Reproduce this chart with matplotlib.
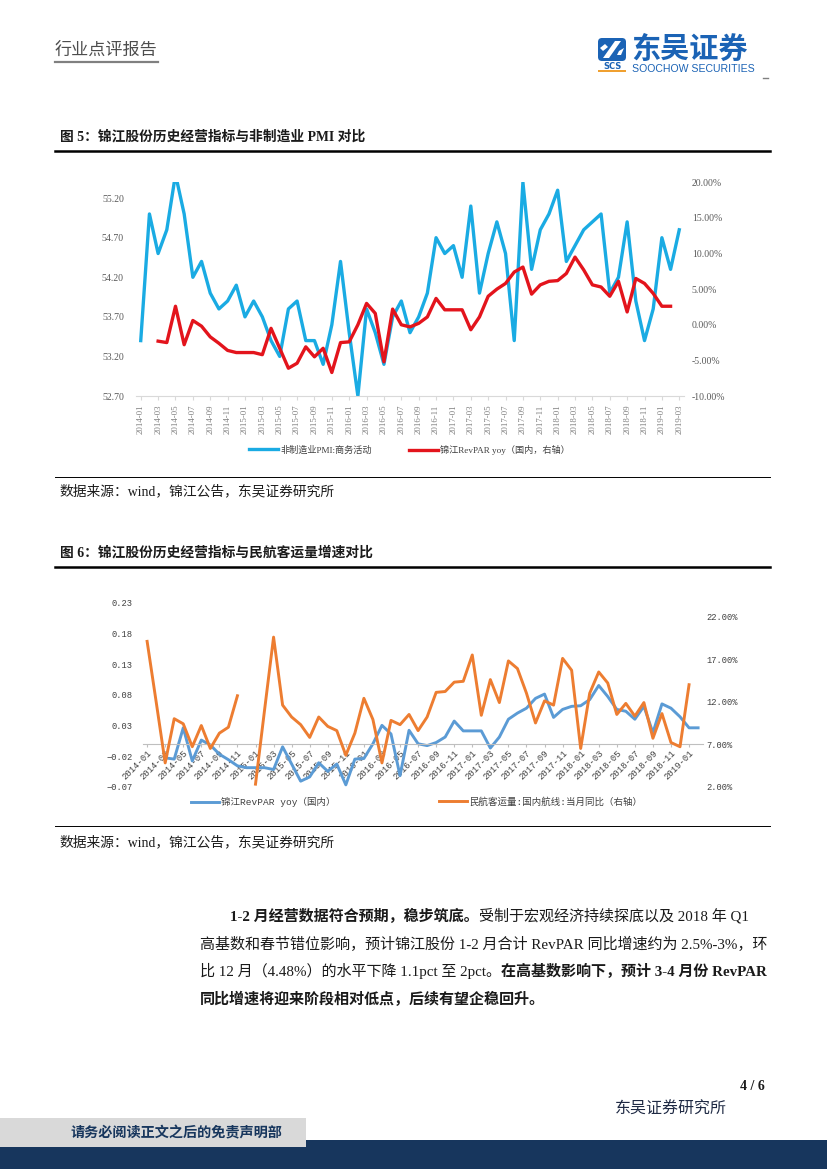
import numpy as np
import pandas as pd
import matplotlib
matplotlib.use("Agg")
import matplotlib.pyplot as plt
from matplotlib.patches import Rectangle, FancyBboxPatch, Polygon
from matplotlib.font_manager import FontProperties

W, H = 827, 1169
CJK = "Noto Sans CJK SC"
SERIF = ["Liberation Serif", CJK]
MONO = ["Liberation Mono", CJK]

# ---------------- data ----------------
months_1 = [str(p) for p in pd.period_range("2014-01", "2019-03", freq="M")]
months_2 = months_1[:-1]

pmi_nonmfg = [
    53.4, 55.0, 54.5, 54.8, 55.5, 55.0, 54.2, 54.4, 54.0, 53.8, 53.9, 54.1,
    53.7, 53.9, 53.7, 53.4, 53.2, 53.8, 53.9, 53.4, 53.4, 53.1, 53.6, 54.4,
    53.5, 52.7, 53.8, 53.5, 53.1, 53.7, 53.9, 53.5, 53.7, 54.0, 54.7, 54.5,
    54.6, 54.2, 55.1, 54.0, 54.5, 54.9, 54.5, 53.4, 55.4, 54.3, 54.8, 55.0,
    55.3, 54.4, 54.6, 54.8, 54.9, 55.0, 54.0, 54.2, 54.9, 53.9, 53.4, 53.8,
    54.7, 54.3, 54.8,
]

revpar_yoy_pct = [
    None, None, -2.3, -2.5, 2.6, -2.8, 0.6, -0.2, -1.7, -2.6, -3.6, -3.9,
    -3.9, -3.9, -4.2, -0.5, -3.3, -6.1, -5.4, -3.1, -4.5, -3.3, -6.7, -2.5,
    -2.4, 0.0, 3.0, 1.6, -5.2, 2.2, 0.0, -0.3, 0.2, 1.1, 3.7, 2.1,
    2.1, 2.1, -0.7, 1.1, 4.0, 5.0, 5.8, 7.4, 8.1, 4.3, 5.6, 6.1,
    6.2, 7.2, 9.5, 7.7, 5.6, 5.3, 4.0, 6.1, 1.8, 6.5, 5.8, 4.4,
    2.6, 2.6,
]

air_pax_yoy_pct = [
    19.1, 12.0, 4.8, 10.0, 9.4, 6.7, 9.2, 6.5, 8.3, 9.0, 12.7, None,
    2.3, 11.0, 19.6, 11.6, 10.2, 9.3, 7.8, 10.2, 9.1, 8.6, 5.7, 8.3,
    12.4, 9.9, 4.8, 9.8, 9.3, 10.5, 8.6, 10.2, 13.1, 13.2, 14.3, 14.4,
    17.5, 10.4, 14.6, 11.9, 16.8, 15.9, 13.0, 9.5, 12.1, 11.6, 17.1, 15.7,
    6.5, 13.0, 15.5, 14.2, 10.5, 11.8, 10.3, 11.9, 7.7, 10.6, 7.2, 6.7,
    14.0,
]

label_pmi = "非制造业PMI:商务活动"
label_rev1 = "锦江RevPAR yoy（国内，右轴）"
label_rev2 = "锦江RevPAR yoy（国内）"
label_air = "民航客运量:国内航线:当月同比（右轴）"

left1_ticks = [52.7, 53.2, 53.7, 54.2, 54.7, 55.2]
right1_ticks = [-10, -5, 0, 5, 10, 15, 20]
left2_ticks = [-0.07, -0.02, 0.03, 0.08, 0.13, 0.18, 0.23]
right2_ticks = [2, 7, 12, 17, 22]


def to_arr(v, n):
    a = np.full(n, np.nan)
    for i, x in enumerate(v):
        if x is not None:
            a[i] = x
    return a


# ---------------- figure ----------------
fig = plt.figure(figsize=(W / 100, H / 100), dpi=100)
fig.patch.set_facecolor("white")

page = fig.add_axes([0, 0, 1, 1])
page.set_xlim(0, W)
page.set_ylim(H, 0)
page.axis("off")


def px_axes(l, t, r, b):
    return [l / W, 1 - b / H, (r - l) / W, (b - t) / H]


# ---------------- header ----------------
page.text(55, 50, "行业点评报告", fontsize=12.3, family=[CJK], color="#4D4D4D",
          va="center", ha="left")
page.plot([55, 158], [61.5, 61.5], color="#808080", lw=1.6)

# logo
page.add_patch(FancyBboxPatch((598, 38), 28, 23, boxstyle="round,pad=0,rounding_size=4",
                              fc="#1B63B5", ec="none"))
page.add_patch(Polygon([(603, 58), (609, 58), (621, 41), (615, 41)], closed=True,
                       fc="white", ec="none"))
page.add_patch(Polygon([(600, 48), (605, 44), (608, 47), (603, 51)], closed=True,
                       fc="white", ec="none"))
page.add_patch(Polygon([(619, 51), (624, 48), (621, 55), (617, 55)], closed=True,
                       fc="white", ec="none"))
page.text(612, 66.5, "SCS", fontsize=6, weight="bold", family=["DejaVu Sans"],
          color="#1B63B5", ha="center", va="center")
page.add_patch(Rectangle((598, 70), 28, 2, fc="#F0A030", ec="none"))
page.text(631, 58, "东吴证券", fontsize=21, weight="bold", family=[CJK],
          color="#1B63B5", ha="left", va="baseline")
page.text(632, 69.5, "SOOCHOW SECURITIES", fontsize=7.6, family=["Liberation Sans"],
          color="#1B63B5", ha="left", va="center")
page.plot([763, 768], [78, 78], color="#808080", lw=1)

# ---------------- chart 1 frame text ----------------
page.text(60, 137, "图 5：锦江股份历史经营指标与非制造业 PMI 对比", fontsize=9.9,
          weight="bold", family=SERIF, color="#1A1A1A", ha="left", va="center")
page.plot([55, 770], [150.5, 150.5], color="black", lw=1.8)
page.plot([55, 770], [477, 477], color="black", lw=0.7)
page.text(60, 491, "数据来源：wind，锦江公告，东吴证券研究所", fontsize=9.9,
          family=SERIF, color="#1A1A1A", ha="left", va="center")

# ---------------- chart 1 ----------------
x1 = np.arange(len(months_1))
ax1 = fig.add_axes(px_axes(136.4, 182.3, 683.6, 396))
ln_pmi, = ax1.plot(x1, pmi_nonmfg, color="#1AABE3", lw=2.4, label=label_pmi)
ax1.set_xlim(-0.5, len(months_1) - 0.5)
ax1.set_ylim(52.7, 55.4)
ax1.set_yticks(left1_ticks)
ax1.set_yticklabels([f"{v:.2f}" for v in left1_ticks])
ax1.set_xticks(x1[::2])
ax1.set_xticklabels(months_1[::2], rotation=90, va="top", ha="center")
ax1.tick_params(axis="y", length=0, pad=9, labelsize=7, labelcolor="#595959")
ax1.tick_params(axis="x", length=3, color="#D9D9D9", pad=3, labelsize=6.3,
                labelcolor="#7F7F7F")
for s in ["top", "left", "right"]:
    ax1.spines[s].set_visible(False)
ax1.spines["bottom"].set_color("#D9D9D9")
for t in ax1.get_xticklabels() + ax1.get_yticklabels():
    t.set_fontfamily(SERIF)

ax1r = ax1.twinx()
ln_rev1, = ax1r.plot(x1, to_arr(revpar_yoy_pct, len(months_1)), color="#E3141C",
                     lw=2.4, label=label_rev1)
ax1r.set_ylim(-10, 20)
ax1r.set_yticks(right1_ticks)
ax1r.set_yticklabels([f"{v:.2f}%" for v in right1_ticks])
ax1r.tick_params(axis="y", length=0, pad=6, labelsize=7, labelcolor="#595959")
for s in ax1r.spines.values():
    s.set_visible(False)
for t in ax1r.get_yticklabels():
    t.set_fontfamily(SERIF)

lp1 = FontProperties(family=SERIF, size=6.6)
fig.legend(handles=[ln_pmi], loc="center left", bbox_to_anchor=(249 / W, 1 - 450 / H),
           frameon=False, prop=lp1, handlelength=3.2, handletextpad=0.2,
           borderpad=0, borderaxespad=0, labelcolor="#404040")
fig.legend(handles=[ln_rev1], loc="center left", bbox_to_anchor=(409 / W, 1 - 450 / H),
           frameon=False, prop=lp1, handlelength=3.2, handletextpad=0.2,
           borderpad=0, borderaxespad=0, labelcolor="#404040")

# ---------------- chart 2 frame text ----------------
page.text(60, 553, "图 6：锦江股份历史经营指标与民航客运量增速对比", fontsize=9.9,
          weight="bold", family=SERIF, color="#1A1A1A", ha="left", va="center")
page.plot([55, 770], [566.5, 566.5], color="black", lw=1.8)
page.plot([55, 770], [826, 826], color="black", lw=0.7)
page.text(60, 842, "数据来源：wind，锦江公告，东吴证券研究所", fontsize=9.9,
          family=SERIF, color="#1A1A1A", ha="left", va="center")

# ---------------- chart 2 ----------------
x2 = np.arange(len(months_2))
ax2 = fig.add_axes(px_axes(142.6, 602.7, 702.6, 786.7))
for s in ["top", "left", "right"]:
    ax2.spines[s].set_visible(False)
ax2.spines["bottom"].set_position(("data", 0))
ax2.spines["bottom"].set_color("#BFBFBF")
ln_rev2, = ax2.plot(x2, to_arr(revpar_yoy_pct, len(months_2)) / 100, color="#5B9BD5",
                    lw=2.1, label=label_rev2)
ax2.set_xlim(-0.5, len(months_2) - 0.5)
ax2.set_ylim(-0.07, 0.23)
ax2.set_yticks(left2_ticks)
ax2.set_yticklabels([f"{v:.2f}".replace("-", "−") for v in left2_ticks])
ax2.set_xticks(x2[::2])
ax2.set_xticklabels(months_2[::2], rotation=45, ha="right", va="top",
                    rotation_mode="anchor")
ax2.tick_params(axis="y", length=0, pad=7, labelsize=6.3, labelcolor="#404040")
ax2.tick_params(axis="x", length=2, color="#BFBFBF", pad=1.5, labelsize=6.4,
                labelcolor="#404040")
for t in ax2.get_xticklabels() + ax2.get_yticklabels():
    t.set_fontfamily(MONO)

ax2r = ax2.twinx()
ln_air, = ax2r.plot(x2, to_arr(air_pax_yoy_pct, len(months_2)), color="#ED7D31",
                    lw=2.1, label=label_air)
ax2r.set_ylim(2, 23.65)
ax2r.set_yticks(right2_ticks)
ax2r.set_yticklabels([f"{v:.2f}%" for v in right2_ticks])
ax2r.tick_params(axis="y", length=0, pad=3, labelsize=6.3, labelcolor="#404040")
for s in ax2r.spines.values():
    s.set_visible(False)
for t in ax2r.get_yticklabels():
    t.set_fontfamily(MONO)

lp2 = FontProperties(family=MONO, size=6.8)
fig.legend(handles=[ln_rev2], loc="center left", bbox_to_anchor=(191 / W, 1 - 802 / H),
           frameon=False, prop=lp2, handlelength=3.0, handletextpad=0.2,
           borderpad=0, borderaxespad=0, labelcolor="#404040")
fig.legend(handles=[ln_air], loc="center left", bbox_to_anchor=(439 / W, 1 - 802 / H),
           frameon=False, prop=lp2, handlelength=3.0, handletextpad=0.2,
           borderpad=0, borderaxespad=0, labelcolor="#404040")

# ---------------- paragraph ----------------
fig.canvas.draw()
renderer = fig.canvas.get_renderer()


def seq_text(x, y, segs, size=10.85):
    for s, bold in segs:
        t = page.text(x, y, s, fontsize=size, weight="bold" if bold else "normal",
                      family=SERIF, color="#1A1A1A", ha="left", va="center")
        bb = t.get_window_extent(renderer=renderer)
        x += bb.width


para_lines = [
    (230, 916, [("1-2 月经营数据符合预期，稳步筑底。", True),
                ("受制于宏观经济持续探底以及 2018 年 Q1", False)]),
    (200, 944, [("高基数和春节错位影响，预计锦江股份 1-2 月合计 RevPAR 同比增速约为 2.5%-3%，环", False)]),
    (200, 971, [("比 12 月（4.48%）的水平下降 1.1pct 至 2pct。", False),
                ("在高基数影响下，预计 3-4 月份 RevPAR", True)]),
    (200, 999, [("同比增速将迎来阶段相对低点，后续有望企稳回升。", True)]),
]
for x, y, segs in para_lines:
    seq_text(x, y, segs)

# ---------------- footer ----------------
page.text(765, 1086, "4 / 6", fontsize=10, weight="bold", family=SERIF,
          color="#1A1A1A", ha="right", va="center")
page.text(727, 1109, "东吴证券研究所", fontsize=11.5, family=[CJK],
          color="#1F2A44", ha="right", va="center")
page.add_patch(Rectangle((0, 1140), W, 29, fc="#17365D", ec="none"))
page.add_patch(Rectangle((0, 1118), 306, 29, fc="#D9D9D9", ec="none"))
page.text(70, 1133, "请务必阅读正文之后的免责声明部", fontsize=10.2, weight="bold",
          family=[CJK], color="#17365D", ha="left", va="center")

fig.savefig("out.png", dpi=100)
